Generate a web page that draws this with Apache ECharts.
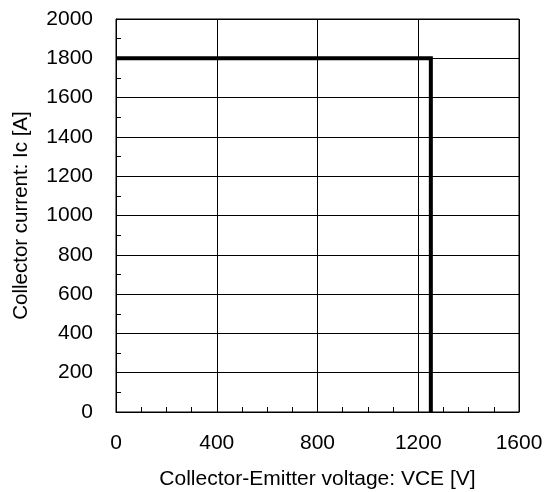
<!DOCTYPE html>
<html>
<head>
<meta charset="utf-8">
<script src="https://cdn.jsdelivr.net/npm/echarts@6/dist/echarts.min.js"></script>
<style>
  html, body { margin: 0; padding: 0; background: #fff; }
  #chart { width: 550px; height: 492px; }
</style>
</head>
<body>
<div id="chart"></div>
<script>
  // 安全工作区边界 (RBSOA)
  const voltage = [0, 1250, 1250]
  const current = [1800, 1800, 0]
  const xTicks = [0, 400, 800, 1200, 1600]
  const yTicks = [0, 200, 400, 600, 800, 1000, 1200, 1400, 1600, 1800, 2000]

  const font = 'Liberation Sans, Arial, sans-serif'
  const chart = echarts.init(document.getElementById('chart'))

  chart.setOption({
    animation: false,
    grid: {
      left: 116,
      right: 31,
      top: 19,
      bottom: 80,
      outerBoundsMode: 'none',
      show: true,
      borderColor: '#000',
      borderWidth: 1
    },
    xAxis: {
      type: 'value',
      min: xTicks[0],
      max: xTicks[xTicks.length - 1],
      interval: 400,
      name: 'Collector-Emitter voltage: VCE [V]',
      nameLocation: 'middle',
      nameGap: 57,
      nameTextStyle: { color: '#000', fontSize: 21, fontFamily: font },
      axisLine: { show: true, lineStyle: { color: '#000', width: 1 } },
      axisTick: { show: true, inside: true, length: 5, lineStyle: { color: '#000' } },
      minorTick: { show: true, splitNumber: 4, length: 5, lineStyle: { color: '#000' } },
      axisLabel: { color: '#000', fontSize: 21, fontFamily: font, margin: 21, formatter: v => String(v) },
      splitLine: { show: true, lineStyle: { color: '#000', width: 1 } }
    },
    yAxis: {
      type: 'value',
      min: yTicks[0],
      max: yTicks[yTicks.length - 1],
      interval: 200,
      name: 'Collector current: Ic [A]',
      nameLocation: 'middle',
      nameGap: 84,
      nameTextStyle: { color: '#000', fontSize: 20.5, fontFamily: font },
      axisLine: { show: true, lineStyle: { color: '#000', width: 1 } },
      axisTick: { show: true, inside: true, length: 5, lineStyle: { color: '#000' } },
      minorTick: { show: true, splitNumber: 2, length: 5, lineStyle: { color: '#000' } },
      axisLabel: { color: '#000', fontSize: 21, fontFamily: font, margin: 23, formatter: v => String(v) },
      splitLine: { show: true, lineStyle: { color: '#000', width: 1 } }
    },
    series: [
      {
        type: 'line',
        data: voltage.map((v, i) => [v, current[i]]),
        symbol: 'none',
        clip: false,
        lineStyle: { color: '#000', width: 4, join: 'miter' }
      }
    ]
  })
</script>
</body>
</html>
